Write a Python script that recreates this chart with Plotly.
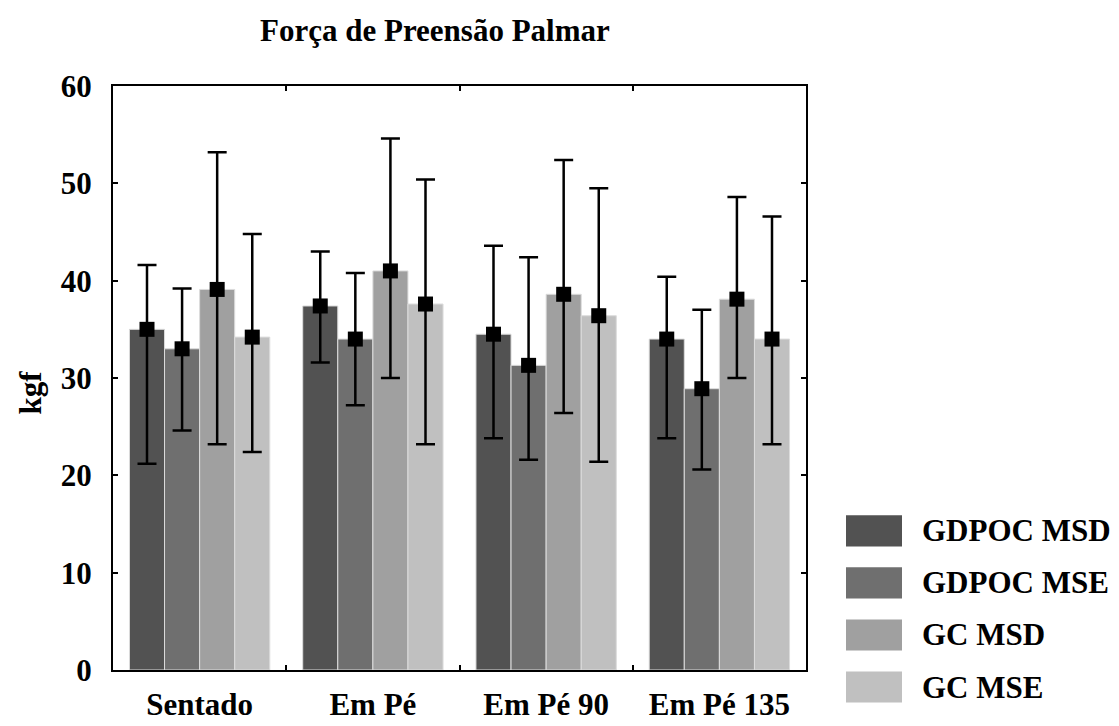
import plotly.graph_objects as go

# ---------------- data ----------------
categories = ["Sentado", "Em Pé", "Em Pé 90", "Em Pé 135"]
series_names = ["GDPOC MSD", "GDPOC MSE", "GC MSD", "GC MSE"]
series_colors = ["#525252", "#6f6f6f", "#a0a0a0", "#c0c0c0"]

gdpoc_msd_mean = [35.0, 37.4, 34.5, 34.0]
gdpoc_mse_mean = [33.0, 34.0, 31.3, 28.9]
gc_msd_mean = [39.1, 41.0, 38.6, 38.1]
gc_mse_mean = [34.2, 37.6, 36.4, 34.0]

gdpoc_msd_upper = [41.6, 43.0, 43.6, 40.4]
gdpoc_mse_upper = [39.2, 40.8, 42.4, 37.0]
gc_msd_upper = [53.2, 54.6, 52.4, 48.6]
gc_mse_upper = [44.8, 50.4, 49.5, 46.6]

gdpoc_msd_lower = [21.2, 31.6, 23.8, 23.8]
gdpoc_mse_lower = [24.6, 27.2, 21.6, 20.6]
gc_msd_lower = [23.2, 30.0, 26.4, 30.0]
gc_mse_lower = [22.4, 23.2, 21.4, 23.2]

y_ticks = [0, 10, 20, 30, 40, 50, 60]

means = [gdpoc_msd_mean, gdpoc_mse_mean, gc_msd_mean, gc_mse_mean]
uppers = [gdpoc_msd_upper, gdpoc_mse_upper, gc_msd_upper, gc_mse_upper]
lowers = [gdpoc_msd_lower, gdpoc_mse_lower, gc_msd_lower, gc_mse_lower]

# ---------------- layout geometry ----------------
W, H = 1119, 726
L, R, T, B = 105, 798, 78, 678  # plot frame in pixels
FONT = "Liberation Serif, Times New Roman, serif"


def px_x(x):
    return (x - L) / (R - L)


def px_y(y):
    return (B - y) / (B - T)


fig = go.Figure()

for i, name in enumerate(series_names):
    fig.add_trace(go.Bar(
        x=categories, y=means[i], name=name,
        marker=dict(color=series_colors[i], line=dict(color="#dcdcdc", width=1)),
        offsetgroup=str(i), showlegend=False,
    ))

for i, name in enumerate(series_names):
    up = [u - m for u, m in zip(uppers[i], means[i])]
    dn = [m - l for m, l in zip(means[i], lowers[i])]
    fig.add_trace(go.Scatter(
        x=categories, y=means[i], mode="markers", name=name,
        marker=dict(symbol="square", size=15, color="black"),
        error_y=dict(type="data", symmetric=False, array=up, arrayminus=dn,
                     color="black", thickness=2.5, width=9.5),
        offsetgroup=str(i), showlegend=False,
    ))

# manual legend (large swatches like the reference)
legend_rows_px = [535, 588.5, 642, 695.5]
shapes = []
annotations = []
for i, name in enumerate(series_names):
    cy = legend_rows_px[i]
    shapes.append(dict(type="rect", xref="paper", yref="paper",
                       x0=px_x(838), x1=px_x(894), y0=px_y(cy + 16), y1=px_y(cy - 16),
                       fillcolor=series_colors[i], line=dict(width=0)))
    annotations.append(dict(xref="paper", yref="paper", x=px_x(912), y=px_y(cy),
                            xanchor="left", yanchor="middle", showarrow=False,
                            text=name, font=dict(family=FONT, size=31, color="black", weight="bold")))

annotations.append(dict(xref="paper", yref="paper", x=px_x(427), y=px_y(21),
                        xanchor="center", yanchor="middle", showarrow=False,
                        text="Força de Preensão Palmar",
                        font=dict(family=FONT, size=31, color="black", weight="bold")))
annotations.append(dict(xref="paper", yref="paper", x=px_x(23), y=px_y(393),
                        xanchor="center", yanchor="middle", showarrow=False, textangle=-90,
                        text="kgf",
                        font=dict(family=FONT, size=31, color="black", weight="bold")))

fig.update_layout(
    width=W, height=H,
    margin=dict(l=L, r=W - R, t=T, b=H - B, pad=0),
    paper_bgcolor="white", plot_bgcolor="white",
    barmode="group", bargap=0.19, bargroupgap=0,
    scattermode="group", scattergap=0.19,
    showlegend=False,
    shapes=shapes, annotations=annotations,
    font=dict(family=FONT, color="black"),
)

fig.update_xaxes(
    type="category", categoryorder="array", categoryarray=categories,
    showline=True, linewidth=2, linecolor="black", mirror="ticks",
    ticks="inside", tickson="boundaries", ticklen=5, tickwidth=2, tickcolor="black",
    showgrid=False, zeroline=False,
    tickfont=dict(family=FONT, size=31, color="black", weight="bold"),
    ticklabelstandoff=6,
)
fig.update_yaxes(
    range=[0, 60], tickvals=y_ticks, ticktext=[str(v) for v in y_ticks],
    showline=True, linewidth=2, linecolor="black", mirror="ticks",
    ticks="inside", ticklen=5, tickwidth=2, tickcolor="black",
    showgrid=False, zeroline=False,
    tickfont=dict(family=FONT, size=31, color="black", weight="bold"),
    ticklabelstandoff=13,
)

fig.write_html("out.html")
